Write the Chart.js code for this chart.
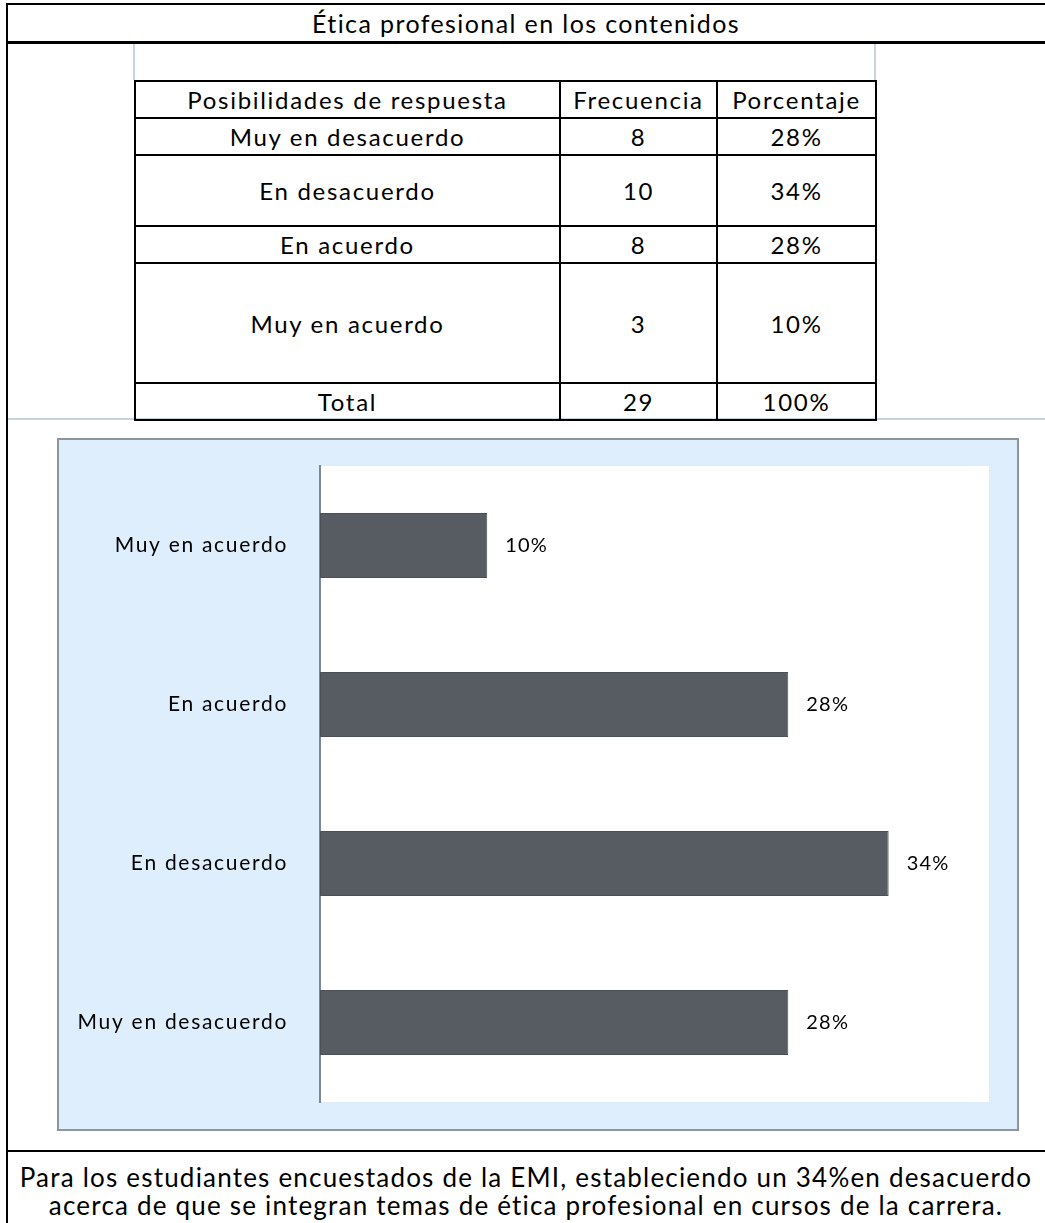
<!DOCTYPE html>
<html>
<head>
<meta charset="utf-8">
<script src="https://cdn.jsdelivr.net/npm/chart.js@4/dist/chart.umd.min.js"></script>
<style>
  html, body { margin: 0; padding: 0; background: #fff; }
  body { width: 1045px; height: 1223px; overflow: hidden; position: relative; font-family: Lato, "Open Sans", sans-serif; color: #000; }
  .abs { position: absolute; }
  .black { background: #000; }
  .light { background: #c6d4e1; }
  #title { left: 7px; top: 5px; width: 1038px; height: 36px; line-height: 36px; text-align: center; font-size: 25px; letter-spacing: 1.4px; white-space: nowrap; }
  #tbl { left: 134px; top: 80px; border-collapse: collapse; font-size: 24px; letter-spacing: 1.7px; }
  #tbl td { border: 2px solid #000; text-align: center; vertical-align: middle; padding: 0; box-sizing: border-box; white-space: nowrap; }
  #box { left: 57px; top: 438px; width: 958px; height: 689px; border: 2px solid #8c949c; background: #dfeefc; }
  #cv { left: 58px; top: 439px; }
  #foot { left: 7px; top: 1163px; width: 1038px; text-align: center; font-size: 26px; line-height: 28px; letter-spacing: 1.2px; white-space: nowrap; }
</style>
</head>
<body>
<div class="abs black" style="left:6px;top:3px;width:1039px;height:2px"></div>
<div class="abs black" style="left:6px;top:3px;width:2px;height:1220px"></div>
<div id="title" class="abs">Ética profesional en los contenidos</div>
<div class="abs black" style="left:6px;top:41px;width:1039px;height:3px"></div>
<div class="abs light" style="left:133px;top:44px;width:2px;height:36px"></div>
<div class="abs light" style="left:874px;top:44px;width:2px;height:36px"></div>
<div class="abs light" style="left:8px;top:418px;width:1037px;height:2px"></div>
<table id="tbl" class="abs"><tbody id="tb"></tbody></table>
<div id="box" class="abs"></div>
<canvas id="cv" class="abs" width="960" height="692" style="width:960px;height:692px"></canvas>
<div class="abs black" style="left:6px;top:1150px;width:1039px;height:2px"></div>
<div id="foot" class="abs">Para los estudiantes encuestados de la EMI, estableciendo un 34%en desacuerdo<br>acerca de que se integran temas de ética profesional en cursos de la carrera.</div>
<script>
// ---- Data ----
const headers = ["Posibilidades de respuesta", "Frecuencia", "Porcentaje"];
const categories = ["Muy en desacuerdo", "En desacuerdo", "En acuerdo", "Muy en acuerdo"];
const frecuencias = [8, 10, 8, 3];
const porcentajes = [28, 34, 28, 10];
const totalLabel = "Total";
const totalFrecuencia = 29;
const totalPorcentaje = 100;
const xMax = 40;

// ---- Table ----
const rowHeights = [37, 37, 71, 37, 120, 37];
const colWidths = [425, 157, 159];
const tb = document.getElementById('tb');
function addRow(cells, h) {
  const tr = document.createElement('tr');
  tr.style.height = h + 'px';
  cells.forEach((c, i) => {
    const td = document.createElement('td');
    td.textContent = c;
    td.style.width = colWidths[i] + 'px';
    td.style.height = h + 'px';
    tr.appendChild(td);
  });
  tb.appendChild(tr);
}
addRow(headers, rowHeights[0]);
categories.forEach((c, i) => addRow([c, String(frecuencias[i]), porcentajes[i] + '%'], rowHeights[i + 1]));
addRow([totalLabel, String(totalFrecuencia), totalPorcentaje + '%'], rowHeights[5]);

// ---- Chart ----
const spacing = {
  id: 'spacing',
  beforeDraw(chart) { try { chart.ctx.letterSpacing = '1.7px'; } catch (e) {} }
};
const plotBg = {
  id: 'plotBg',
  beforeDraw(chart) {
    const { ctx, chartArea: a } = chart;
    ctx.save();
    ctx.fillStyle = '#ffffff';
    ctx.fillRect(a.left, a.top, a.right - a.left, a.bottom - a.top);
    ctx.restore();
  }
};
const valueLabels = {
  id: 'valueLabels',
  afterDatasetsDraw(chart) {
    const { ctx } = chart;
    const meta = chart.getDatasetMeta(0);
    ctx.save();
    try { ctx.letterSpacing = '1.2px'; } catch (e) {}
    ctx.font = '20px Lato, "Open Sans", sans-serif';
    ctx.fillStyle = '#000';
    ctx.textAlign = 'left';
    ctx.textBaseline = 'middle';
    meta.data.forEach((bar, i) => {
      ctx.fillText(chart.data.datasets[0].data[i] + '%', bar.x + 18, bar.y);
    });
    ctx.restore();
  }
};

new Chart(document.getElementById('cv'), {
  type: 'bar',
  data: {
    labels: categories,
    datasets: [{
      data: porcentajes,
      backgroundColor: '#575c63',
      borderColor: '#4b5056',
      borderWidth: 1,
      borderSkipped: false,
      categoryPercentage: 1,
      barPercentage: 0.41
    }]
  },
  options: {
    indexAxis: 'y',
    responsive: false,
    animation: false,
    devicePixelRatio: 1,
    layout: { padding: { top: 27, right: 29, bottom: 29, left: 0 } },
    plugins: { legend: { display: false }, tooltip: { enabled: false } },
    scales: {
      x: { display: false, min: 0, max: xMax },
      y: {
        reverse: true,
        grid: { display: false, drawTicks: false },
        border: { display: true, color: '#7f868d', width: 2 },
        ticks: { color: '#000', padding: 32, font: { family: 'Lato, "Open Sans", sans-serif', size: 21 } },
        afterFit(scale) { scale.width = 262; scale.paddingTop = 0; scale.paddingBottom = 0; }
      }
    }
  },
  plugins: [spacing, plotBg, valueLabels]
});
</script>
</body>
</html>
